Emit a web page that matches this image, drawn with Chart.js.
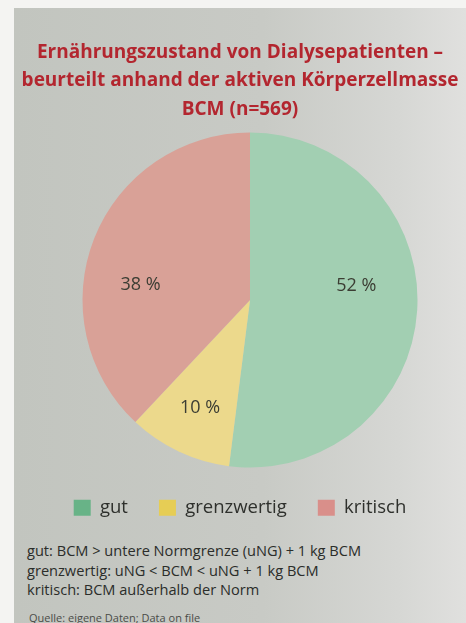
<!DOCTYPE html>
<html lang="de">
<head>
<meta charset="utf-8">
<script src="https://cdn.jsdelivr.net/npm/chart.js@4/dist/chart.umd.min.js"></script>
<style>
  html, body { margin: 0; padding: 0; background: #f4f4f2; }
  body { width: 466px; height: 623px; position: relative; overflow: hidden; font-family: "Open Sans", sans-serif; }
  #seite {
    position: absolute; left: 14px; top: 8px; width: 452px; height: 615px;
    background: linear-gradient(90deg, #c2c5bf 0%, #c8cac5 55%, #d6d7d4 85%, #e0e0de 100%);
  }
  #grafik { position: absolute; left: 0; top: 0; }
  #fussnoten {
    position: absolute; left: 13px; top: 533px; font-size: 14.6px; line-height: 19.5px; color: #2b2d2a;
  }
  #quelle { position: absolute; left: 15px; top: 602px; font-size: 11px; color: #4a4c48; }
</style>
</head>
<body>
<div id="seite">
  <canvas id="grafik" width="452" height="523"></canvas>
  <div id="fussnoten">
    gut: BCM &gt; untere Normgrenze (uNG) + 1 kg BCM<br>
    grenzwertig: uNG &lt; BCM &lt; uNG + 1 kg BCM<br>
    kritisch: BCM außerhalb der Norm
  </div>
  <div id="quelle">Quelle: eigene Daten; Data on file</div>
</div>
<script>
// Daten
const kategorien = ["gut", "grenzwertig", "kritisch"];
const anteile = [52, 10, 38];
const titelZeilen = [
  "Ernährungszustand von Dialysepatienten –",
  "beurteilt anhand der aktiven Körperzellmasse",
  "BCM (n=569)"
];

// Farben
const farbenTorte = ["#a2cfb2", "#ecd98c", "#d9a197"];
const farbenLegende = ["#68b387", "#e6cd55", "#d98f8a"];

// Torte etwas nach rechts schieben, Titel und Legende bleiben mittig
const torteVersatz = {
  id: "torteVersatz",
  afterLayout(chart, args, opts) {
    chart.chartArea.left += opts.links;
    chart.chartArea.width -= opts.links;
  }
};

// eigenes Plugin: Prozentwerte in die Segmente schreiben
const prozentLabels = {
  id: "prozentLabels",
  afterDatasetsDraw(chart, args, opts) {
    const ctx = chart.ctx;
    const meta = chart.getDatasetMeta(0);
    ctx.save();
    ctx.font = "18px 'Open Sans', sans-serif";
    ctx.fillStyle = "#3b3d33";
    ctx.textAlign = "center";
    ctx.textBaseline = "middle";
    meta.data.forEach((arc, i) => {
      const p = arc.getProps(["x", "y", "startAngle", "endAngle", "outerRadius"], true);
      const winkel = p.startAngle + (p.endAngle - p.startAngle) * opts.winkelAnteil[i];
      const r = p.outerRadius * opts.radien[i];
      ctx.fillText(anteile[i] + " %", p.x + Math.cos(winkel) * r, p.y + Math.sin(winkel) * r);
    });
    ctx.restore();
  }
};

const ctx = document.getElementById("grafik").getContext("2d");
new Chart(ctx, {
  type: "pie",
  data: {
    labels: kategorien,
    datasets: [{
      data: anteile,
      backgroundColor: farbenTorte,
      borderWidth: 0
    }]
  },
  options: {
    responsive: false,
    animation: false,
    layout: { padding: { top: 14, bottom: 4, left: 0, right: 0 } },
    plugins: {
      title: {
        display: true,
        text: titelZeilen,
        color: "#b3262f",
        font: { family: "'Open Sans', sans-serif", size: 19, weight: "bold", lineHeight: 1.5 },
        padding: { top: 16, bottom: 9 }
      },
      legend: {
        position: "bottom",
        labels: {
          color: "#2e302c",
          font: { family: "'Open Sans', sans-serif", size: 18.5 },
          boxWidth: 17,
          boxHeight: 16,
          padding: 31,
          generateLabels(chart) {
            return kategorien.map((k, i) => ({
              text: k,
              fillStyle: farbenLegende[i],
              strokeStyle: farbenLegende[i],
              lineWidth: 0,
              fontColor: "#2e302c",
              index: i
            }));
          }
        }
      },
      tooltip: { enabled: false },
      torteVersatz: { links: 20 },
      prozentLabels: { winkelAnteil: [0.44, 0.49, 0.4], radien: [0.64, 0.71, 0.66] }
    }
  },
  plugins: [torteVersatz, prozentLabels]
});
</script>
</body>
</html>
